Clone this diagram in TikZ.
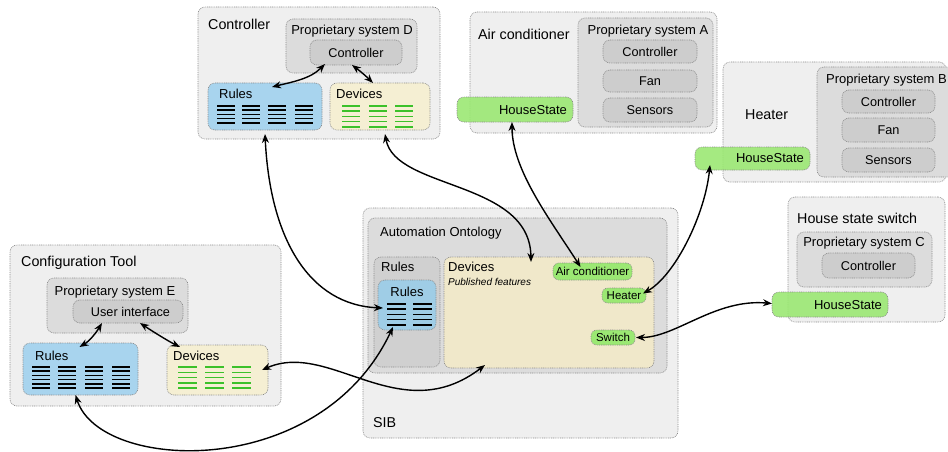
\documentclass[tikz,border=0pt]{standalone}
\usepackage{fontspec}
\setmainfont{Liberation Sans}
\usetikzlibrary{arrows.meta}
\definecolor{outerc}{HTML}{EFEFEF}
\definecolor{propc}{HTML}{DCDCDC}
\definecolor{compc}{HTML}{CDCDCD}
\definecolor{sibrc}{HTML}{D0D0D0}
\definecolor{bluec}{HTML}{A8D4EE}
\definecolor{sbluec}{HTML}{9FCDE6}
\definecolor{yelc}{HTML}{F5EFD3}
\definecolor{sdevc}{HTML}{F0E8CA}
\definecolor{greenc}{HTML}{9BE873}
\definecolor{linegreen}{HTML}{3CC12A}
\definecolor{bordc}{HTML}{8A8A8A}
\tikzset{
 bxbase/.style={draw=bordc, line width=0.6pt, dash pattern=on 0.9pt off 0.9pt, rounded corners=7pt, inner sep=0pt, outer sep=0pt},
 outerbox/.style={bxbase, fill=outerc},
 propbox/.style={bxbase, fill=propc},
 compbox/.style={bxbase, fill=compc, font=\fontsize{12.7}{15}\selectfont},
 sibrbox/.style={bxbase, fill=sibrc},
 bluebox/.style={bxbase, fill=bluec},
 sbluebox/.style={bxbase, fill=sbluec},
 yelbox/.style={bxbase, fill=yelc},
 sdevbox/.style={bxbase, fill=sdevc},
 greenbox/.style={bxbase, fill=greenc, fill opacity=0.9},
 pill/.style={bxbase, fill=greenc, rounded corners=6pt, font=\fontsize{11.5}{13}\selectfont},
 title/.style={inner sep=0pt, anchor=west, font=\fontsize{14.3}{17}\selectfont},
 lbl/.style={inner sep=0pt, anchor=west, font=\fontsize{13}{15}\selectfont},
 clbl/.style={inner sep=0pt, font=\fontsize{13}{15}\selectfont},
 smalllbl/.style={inner sep=0pt, anchor=west, font=\fontsize{10}{12}\selectfont\itshape},
 link/.style={line width=1.4pt, {Stealth[length=9pt,width=7pt]}-{Stealth[length=9pt,width=7pt]}},
 blk/.style={line width=1.5pt, black},
 grn/.style={line width=1.5pt, linegreen},
}
\newcommand{\bx}[7]{\node[#6, minimum width={(#4-#2)*1pt}, minimum height={(#5-#3)*1pt}] (#1) at ({(#2+#4)/2},{(#3+#5)/2}) {#7};}
\begin{document}
\begin{tikzpicture}[x=1pt, y=-1pt]
\useasboundingbox (0,0) rectangle (948,452);
% ---------- outer boxes
\bx{ctlout}{198}{7}{440}{139}{outerbox}{}
\bx{acout}{470}{12}{717}{133}{outerbox}{}
\bx{htout}{723}{62}{946}{182}{outerbox}{}
\bx{swout}{788}{197}{945}{322}{outerbox}{}
\bx{sibout}{363}{208}{678}{438}{outerbox}{}
\bx{cfgout}{10}{245}{281}{406}{outerbox}{}
% ---------- controller
\node[title] (tctl) at (208,24) {Controller};
\bx{dprop}{286}{19}{417}{73}{propbox}{}
\node[clbl] (tdprop) at (352,31) {Proprietary system D};
\bx{dctrl}{310}{40}{402}{65}{compbox}{Controller}
\bx{crules}{208}{83}{322}{130}{bluebox}{}
\node[lbl] (tcrules) at (219,94) {Rules};
\foreach \c in {217,242,268,295} \foreach \k in {0,...,4} \draw[blk] (\c,{106+\k*4.2}) -- ++(18,0);
\bx{cdev}{330}{83}{430}{130}{yelbox}{}
\node[lbl] (tcdev) at (336,94) {Devices};
\foreach \c in {342,369,395} \foreach \k in {0,...,4} \draw[grn] (\c,{106+\k*5.2}) -- ++(18,0);
% ---------- air conditioner
\node[title] (tac) at (478,34) {Air conditioner};
\bx{aprop}{578}{18}{713}{127}{propbox}{}
\node[clbl] (taprop) at (648,31) {Proprietary system A};
\bx{actrl}{603}{40}{697}{63}{compbox}{Controller}
\bx{afan}{603}{70}{697}{92}{compbox}{Fan}
\bx{asens}{603}{98}{697}{122}{compbox}{Sensors}
% ---------- heater
\node[title] (tht) at (745,115) {Heater};
\bx{bprop}{817}{67}{956}{177}{propbox}{}
\node[lbl] (tbprop) at (826,80) {Proprietary system B};
\bx{bctrl}{842}{90}{935}{113}{compbox}{Controller}
\bx{bfan}{842}{118}{935}{142}{compbox}{Fan}
\bx{bsens}{842}{148}{935}{172}{compbox}{Sensors}
% ---------- house state switch
\node[title] (tsw) at (797,218) {House state switch};
\bx{cprop}{797}{232}{932}{287}{propbox}{}
\node[clbl] (tcprop) at (864,243) {Proprietary system C};
\bx{cctrl}{822}{253}{915}{278}{compbox}{Controller}
% ---------- SIB
\node[title] (tsib) at (373,423) {SIB};
\bx{onto}{368}{218}{667}{373}{propbox}{}
\node[lbl] (tonto) at (380,233) {Automation Ontology};
\bx{srules}{374}{257}{440}{367}{sibrbox}{}
\node[lbl] (tsrules) at (381,267) {Rules};
\bx{sblue}{378}{280}{436}{330}{sbluebox}{}
\node[clbl] (tsblue) at (407,292) {Rules};
\foreach \c in {387,413} \foreach \k in {0,...,4} \draw[blk] (\c,{304+\k*5.2}) -- ++(19,0);
\bx{sdev}{444}{257}{654}{368}{sdevbox}{}
\node[lbl] (tsdev) at (448,267) {Devices};
\node[smalllbl] (tpub) at (448,282) {Published features};
\bx{sac}{553}{263}{632}{280}{pill}{Air conditioner}
\bx{sheat}{602}{288}{646}{303}{pill}{Heater}
\bx{sswitch}{591}{330}{635}{345}{pill}{Switch}
% ---------- configuration tool
\node[title] (tcfg) at (21,263) {Configuration Tool};
\bx{eprop}{47}{278}{188}{333}{propbox}{}
\node[clbl] (teprop) at (115,292) {Proprietary system E};
\bx{eui}{73}{300}{183}{323}{compbox}{\hspace*{5pt}User interface}
\bx{trules}{23}{343}{138}{395}{bluebox}{}
\node[lbl] (ttrules) at (35,356) {Rules};
\foreach \c in {32,58,85,112} \foreach \k in {0,...,5} \draw[blk] (\c,{367+\k*4.2}) -- ++(18,0);
\bx{tdev}{167}{345}{268}{395}{yelbox}{}
\node[lbl] (ttdev) at (173,356) {Devices};
\foreach \c in {178,205,232} \foreach \k in {0,...,4} \draw[grn] (\c,{367+\k*5.3}) -- ++(19,0);
% ---------- HouseState boxes
\bx{achs}{457}{97}{573}{122}{greenbox}{}
\node[clbl] (tachs) at (533,110) {HouseState};
\bx{hths}{695}{147}{810}{170}{greenbox}{}
\node[clbl] (thths) at (770,158) {HouseState};
\bx{swhs}{772}{292}{888}{317}{greenbox}{}
\node[clbl] (tswhs) at (848,305) {HouseState};
% ---------- connectors
\draw[link] ([shift={(15,-1)}]dctrl.south west) .. controls +(-15,15) and +(20,-5) .. ([shift={(7,4)}]crules.north);
\draw[link] ([shift={(-4,0)}]dctrl.south) .. controls +(8,6) and +(-6,-6) .. ([shift={(-7,0)}]cdev.north);
\draw[link] ([shift={(0,4)}]crules.south) .. controls (270,240) and (310,305) .. ([shift={(5,3)}]sblue.west);
\draw[link] ([shift={(5,4)}]cdev.south) .. controls +(10,56) and +(-1,-82) .. ([shift={(87,5)}]sdev.north west);
\draw[link] ([shift={(-3,0)}]achs.south) .. controls +(0,48) and +(-30,-47) .. ([shift={(-12,4)}]sac.north);
\draw[link] ([shift={(15,-5)}]hths.south west) .. controls +(-5,50) and +(32,-18) .. ([shift={(-3,-2)}]sheat.east);
\draw[link] ([shift={(1,0)}]sswitch.east) .. controls +(40,0) and +(-57,-5) .. ([shift={(0,-1)}]swhs.west);
\draw[link] ([shift={(-5,0)}]trules.south) .. controls (100,472) and (320,482) .. ([shift={(-14,-3)}]sblue.south);
\draw[link] ([shift={(-6,0)}]tdev.east) .. controls (330,340) and (400,430) .. ([shift={(41,-3)}]sdev.south west);
\draw[link] ([shift={(29,0)}]eui.south west) .. controls +(-6,10) and +(10,-6) .. ([shift={(-1,4)}]trules.north);
\draw[link] ([shift={(-43,0)}]eui.south east) .. controls +(12,8) and +(-12,-6) .. ([shift={(13,2)}]tdev.north west);
\end{tikzpicture}
\end{document}
